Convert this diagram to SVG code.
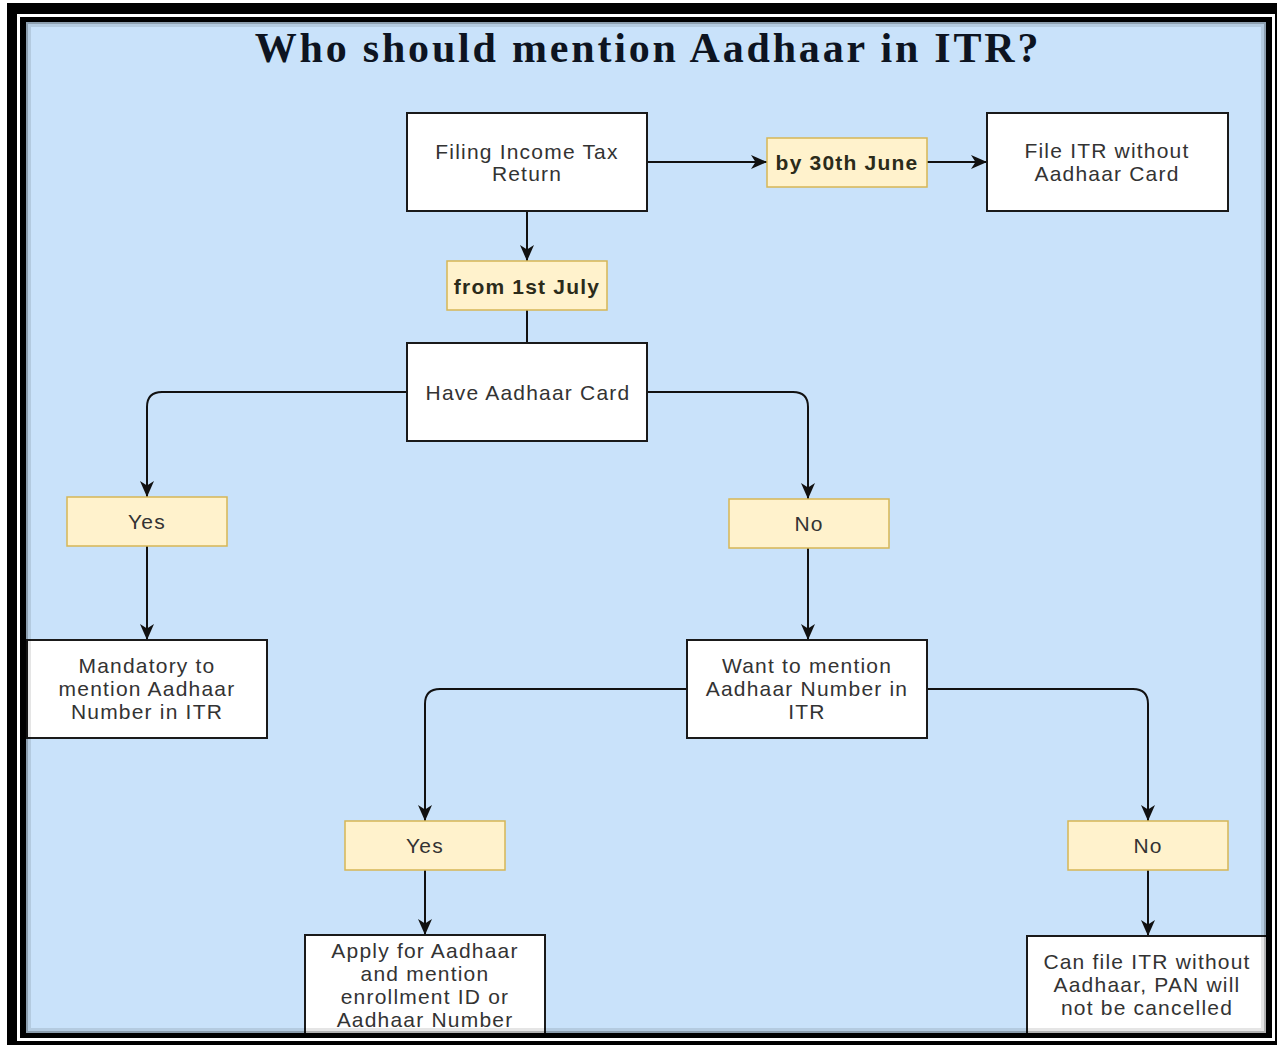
<svg xmlns="http://www.w3.org/2000/svg" width="1281" height="1048" viewBox="0 0 1281 1048">
  <style>
    .box { fill: #ffffff; stroke: #1a1a1a; stroke-width: 2; }
    .lbl { fill: #fff2cc; stroke: #d6b656; stroke-width: 1.5; }
    .t { font-family: "Liberation Sans", Arial, sans-serif; font-size: 21px; fill: #333333; text-anchor: middle; letter-spacing: 1.2px; }
    .b { font-weight: bold; fill: #2b2b1a; }
    .title { font-family: "Liberation Serif", "Times New Roman", serif; font-size: 42px; font-weight: bold; fill: #0d1421; text-anchor: middle; letter-spacing: 2.8px; }
    .edge { fill: none; stroke: #111111; stroke-width: 2; }
  </style>
  <defs>
    <marker id="arr" viewBox="0 0 16 14" markerWidth="16" markerHeight="14" refX="16" refY="7" orient="auto" markerUnits="userSpaceOnUse">
      <path d="M0,0 L16,7 L0,14 L4.5,7 z" fill="#111111"/>
    </marker>
  </defs>

  <rect x="0" y="0" width="1281" height="1048" fill="#ffffff"/>
  <!-- background -->
  <rect x="26" y="22" width="1240" height="1011" fill="#c9e2fa"/>

  <text class="title" x="648" y="62">Who should mention Aadhaar in ITR?</text>

  <g id="connectors">
    <path class="edge" d="M647,162 H767" marker-end="url(#arr)"/>
    <path class="edge" d="M927,162 H987" marker-end="url(#arr)"/>
    <path class="edge" d="M527,211 V261" marker-end="url(#arr)"/>
    <path class="edge" d="M527,310 V343"/>
    <path class="edge" d="M407,392 H162 Q147,392 147,407 V497" marker-end="url(#arr)"/>
    <path class="edge" d="M647,392 H793 Q808,392 808,407 V499" marker-end="url(#arr)"/>
    <path class="edge" d="M147,546 V640" marker-end="url(#arr)"/>
    <path class="edge" d="M808,548 V640" marker-end="url(#arr)"/>
    <path class="edge" d="M687,689 H440 Q425,689 425,704 V821" marker-end="url(#arr)"/>
    <path class="edge" d="M927,689 H1133 Q1148,689 1148,704 V821" marker-end="url(#arr)"/>
    <path class="edge" d="M425,870 V935" marker-end="url(#arr)"/>
    <path class="edge" d="M1148,870 V936" marker-end="url(#arr)"/>
  </g>

  <g id="filing">
    <rect class="box" x="407" y="113" width="240" height="98"/>
    <text class="t" x="527" y="159">Filing Income Tax</text>
    <text class="t" x="527" y="181">Return</text>
  </g>
  <g id="by30june">
    <rect class="lbl" x="767" y="138" width="160" height="49"/>
    <text class="t b" x="847" y="170">by 30th June</text>
  </g>
  <g id="fileWithout">
    <rect class="box" x="987" y="113" width="241" height="98"/>
    <text class="t" x="1107" y="158">File ITR without</text>
    <text class="t" x="1107" y="181">Aadhaar Card</text>
  </g>
  <g id="from1july">
    <rect class="lbl" x="447" y="261" width="160" height="49"/>
    <text class="t b" x="527" y="294">from 1st July</text>
  </g>
  <g id="haveAadhaar">
    <rect class="box" x="407" y="343" width="240" height="98"/>
    <text class="t" x="528" y="400">Have Aadhaar Card</text>
  </g>
  <g id="yes1">
    <rect class="lbl" x="67" y="497" width="160" height="49"/>
    <text class="t" x="147" y="529">Yes</text>
  </g>
  <g id="no1">
    <rect class="lbl" x="729" y="499" width="160" height="49"/>
    <text class="t" x="809" y="531">No</text>
  </g>
  <g id="mandatory">
    <rect class="box" x="27" y="640" width="240" height="98"/>
    <text class="t" x="147" y="673">Mandatory to</text>
    <text class="t" x="147" y="696">mention Aadhaar</text>
    <text class="t" x="147" y="719">Number in ITR</text>
  </g>
  <g id="wantMention">
    <rect class="box" x="687" y="640" width="240" height="98"/>
    <text class="t" x="807" y="673">Want to mention</text>
    <text class="t" x="807" y="696">Aadhaar Number in</text>
    <text class="t" x="807" y="719">ITR</text>
  </g>
  <g id="yes2">
    <rect class="lbl" x="345" y="821" width="160" height="49"/>
    <text class="t" x="425" y="853">Yes</text>
  </g>
  <g id="no2">
    <rect class="lbl" x="1068" y="821" width="160" height="49"/>
    <text class="t" x="1148" y="853">No</text>
  </g>
  <g id="apply">
    <rect class="box" x="305" y="935" width="240" height="100"/>
    <text class="t" x="425" y="958">Apply for Aadhaar</text>
    <text class="t" x="425" y="981">and mention</text>
    <text class="t" x="425" y="1004">enrollment ID or</text>
    <text class="t" x="425" y="1027">Aadhaar Number</text>
  </g>
  <g id="canFile">
    <rect class="box" x="1027" y="936" width="240" height="99"/>
    <text class="t" x="1147" y="969">Can file ITR without</text>
    <text class="t" x="1147" y="992">Aadhaar, PAN will</text>
    <text class="t" x="1147" y="1015">not be cancelled</text>
  </g>

  <!-- frame -->
  <g id="frame">
    <path fill-rule="evenodd" fill="#000000" d="M7,3 H1277 V1045 H7 Z M26,22 V1033 H1266 V22 Z"/>
    <rect x="18.5" y="15.5" width="1255" height="1024" fill="none" stroke="#ffffff" stroke-width="3"/>
    <rect x="27" y="23" width="1238" height="1009" fill="none" stroke="#000000" stroke-opacity="0.3" stroke-width="2"/>
    <rect x="29.5" y="25.5" width="1233" height="1004" fill="none" stroke="#000000" stroke-opacity="0.1" stroke-width="3"/>
  </g>
</svg>
